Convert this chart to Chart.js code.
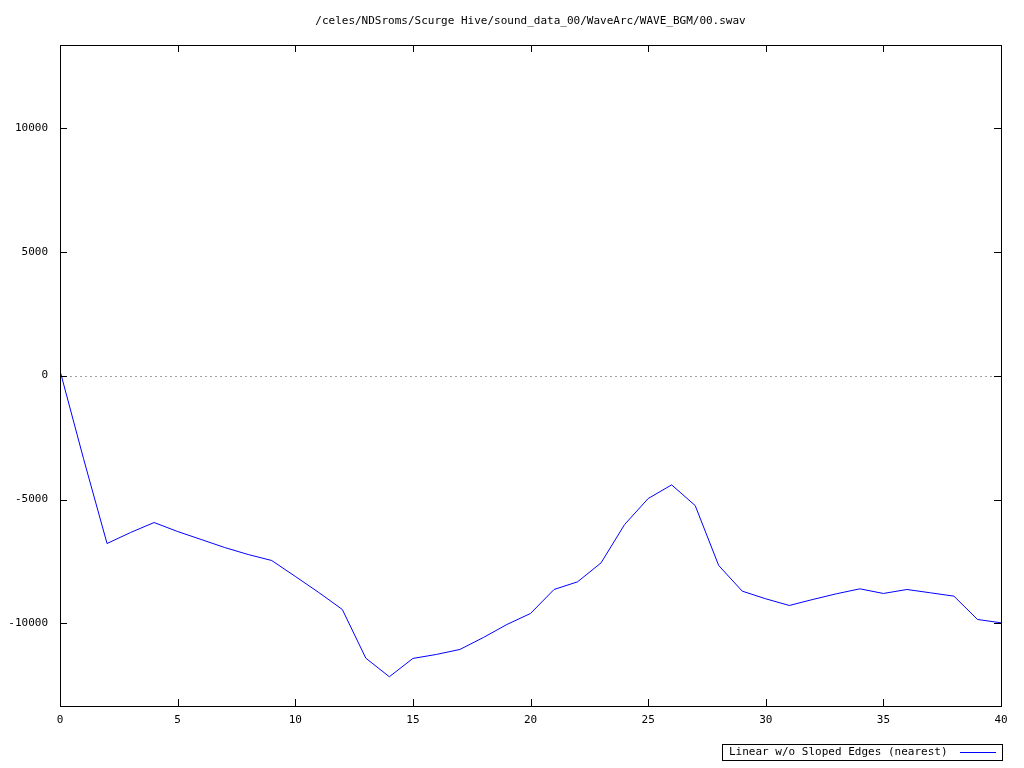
<!DOCTYPE html>
<html>
<head>
<meta charset="utf-8">
<title>WAVE_BGM/00.swav</title>
<script src="https://cdn.jsdelivr.net/npm/chart.js@4/dist/chart.umd.min.js"></script>
<style>
  html, body { margin: 0; padding: 0; background: #ffffff; }
  canvas { display: block; }
</style>
</head>
<body>
<canvas id="swavChart" width="1024" height="768"></canvas>
<script>
// values, one per sample index
const titleText = "/celes/NDSroms/Scurge Hive/sound_data_00/WaveArc/WAVE_BGM/00.swav";
const seriesLabel = "Linear w/o Sloped Edges (nearest)";
const sampleIndex = [0, 1, 2, 3, 4, 5, 6, 7, 8, 9, 10, 11, 12, 13, 14, 15, 16, 17, 18, 19, 20,
  21, 22, 23, 24, 25, 26, 27, 28, 29, 30, 31, 32, 33, 34, 35, 36, 37, 38, 39, 40];
const sampleValue = [200, -3350, -6774, -6330, -5927, -6290, -6612, -6935, -7218, -7460, -8100,
  -8750, -9435, -11400, -12150, -11411, -11250, -11048, -10565, -10040, -9597,
  -8629, -8320, -7554, -6008, -4960, -4408, -5242, -7661, -8696, -9005,
  -9274, -9032, -8803, -8602, -8790, -8629, -8763, -8898, -9839, -9973];
const xTicks = [0, 5, 10, 15, 20, 25, 30, 35, 40];
const yTicks = [-10000, -5000, 0, 5000, 10000];

const monoFont = "'DejaVu Sans Mono', 'Liberation Mono', monospace";

// gnuplot-ish frame: border, inward ticks on all sides, dotted zero axis, title and key
const gnuplotFrame = {
  id: "gnuplotFrame",
  afterDatasetsDraw(chart) {
    const { ctx, chartArea: a, scales } = chart;
    ctx.save();

    // zero axis
    const y0 = Math.round(scales.y.getPixelForValue(0)) + 0.5;
    ctx.strokeStyle = "#a0a0a0";
    ctx.lineWidth = 1;
    ctx.setLineDash([2, 3]);
    ctx.beginPath();
    ctx.moveTo(a.left, y0);
    ctx.lineTo(a.right, y0);
    ctx.stroke();
    ctx.setLineDash([]);

    // border
    ctx.strokeStyle = "#000000";
    ctx.strokeRect(Math.round(a.left) + 0.5, Math.round(a.top) + 0.5,
      Math.round(a.right - a.left), Math.round(a.bottom - a.top));

    // ticks
    const len = 7;
    ctx.beginPath();
    xTicks.forEach(v => {
      const px = Math.round(scales.x.getPixelForValue(v)) + 0.5;
      ctx.moveTo(px, a.bottom); ctx.lineTo(px, a.bottom - len);
      ctx.moveTo(px, a.top); ctx.lineTo(px, a.top + len);
    });
    yTicks.forEach(v => {
      const py = Math.round(scales.y.getPixelForValue(v)) + 0.5;
      ctx.moveTo(a.left, py); ctx.lineTo(a.left + len, py);
      ctx.moveTo(a.right, py); ctx.lineTo(a.right - len, py);
    });
    ctx.stroke();

    // title
    ctx.fillStyle = "#000000";
    ctx.font = "11px " + monoFont;
    ctx.textAlign = "center";
    ctx.textBaseline = "middle";
    ctx.fillText(titleText, (a.left + a.right) / 2, 21);

    // key box
    const ds = chart.data.datasets[0];
    const boxL = 722, boxR = 1002, boxT = 744, boxB = 760;
    ctx.strokeRect(boxL + 0.5, boxT + 0.5, boxR - boxL, boxB - boxT);
    ctx.textAlign = "left";
    ctx.fillText(ds.label, 729, 752);
    ctx.strokeStyle = ds.borderColor;
    ctx.beginPath();
    ctx.moveTo(960, 752.5);
    ctx.lineTo(996, 752.5);
    ctx.stroke();

    ctx.restore();
  }
};

new Chart(document.getElementById("swavChart"), {
  type: "line",
  data: {
    datasets: [{
      label: seriesLabel,
      data: sampleIndex.map((x, i) => ({ x: x, y: sampleValue[i] })),
      borderColor: "#0000ff",
      borderWidth: 1,
      pointRadius: 0,
      tension: 0,
      fill: false
    }]
  },
  options: {
    responsive: false,
    animation: false,
    devicePixelRatio: 1,
    layout: { padding: { left: 0, right: 23, top: 45, bottom: 0 } },
    plugins: {
      legend: { display: false },
      title: { display: false },
      tooltip: { enabled: false }
    },
    scales: {
      x: {
        type: "linear",
        min: 0,
        max: 40,
        grid: { display: false },
        border: { display: false },
        afterBuildTicks: s => { s.ticks = xTicks.map(v => ({ value: v })); },
        afterFit: s => { s.height = 62; },
        ticks: {
          color: "#000000",
          padding: 0,
          maxRotation: 0,
          font: { family: monoFont, size: 11 }
        }
      },
      y: {
        type: "linear",
        min: -13330,
        max: 13340,
        grid: { display: false },
        border: { display: false },
        afterBuildTicks: s => { s.ticks = yTicks.map(v => ({ value: v })); },
        afterFit: s => { s.width = 60; },
        ticks: {
          color: "#000000",
          padding: 4,
          font: { family: monoFont, size: 11 },
          callback: v => String(v)
        }
      }
    }
  },
  plugins: [gnuplotFrame]
});
</script>
</body>
</html>
